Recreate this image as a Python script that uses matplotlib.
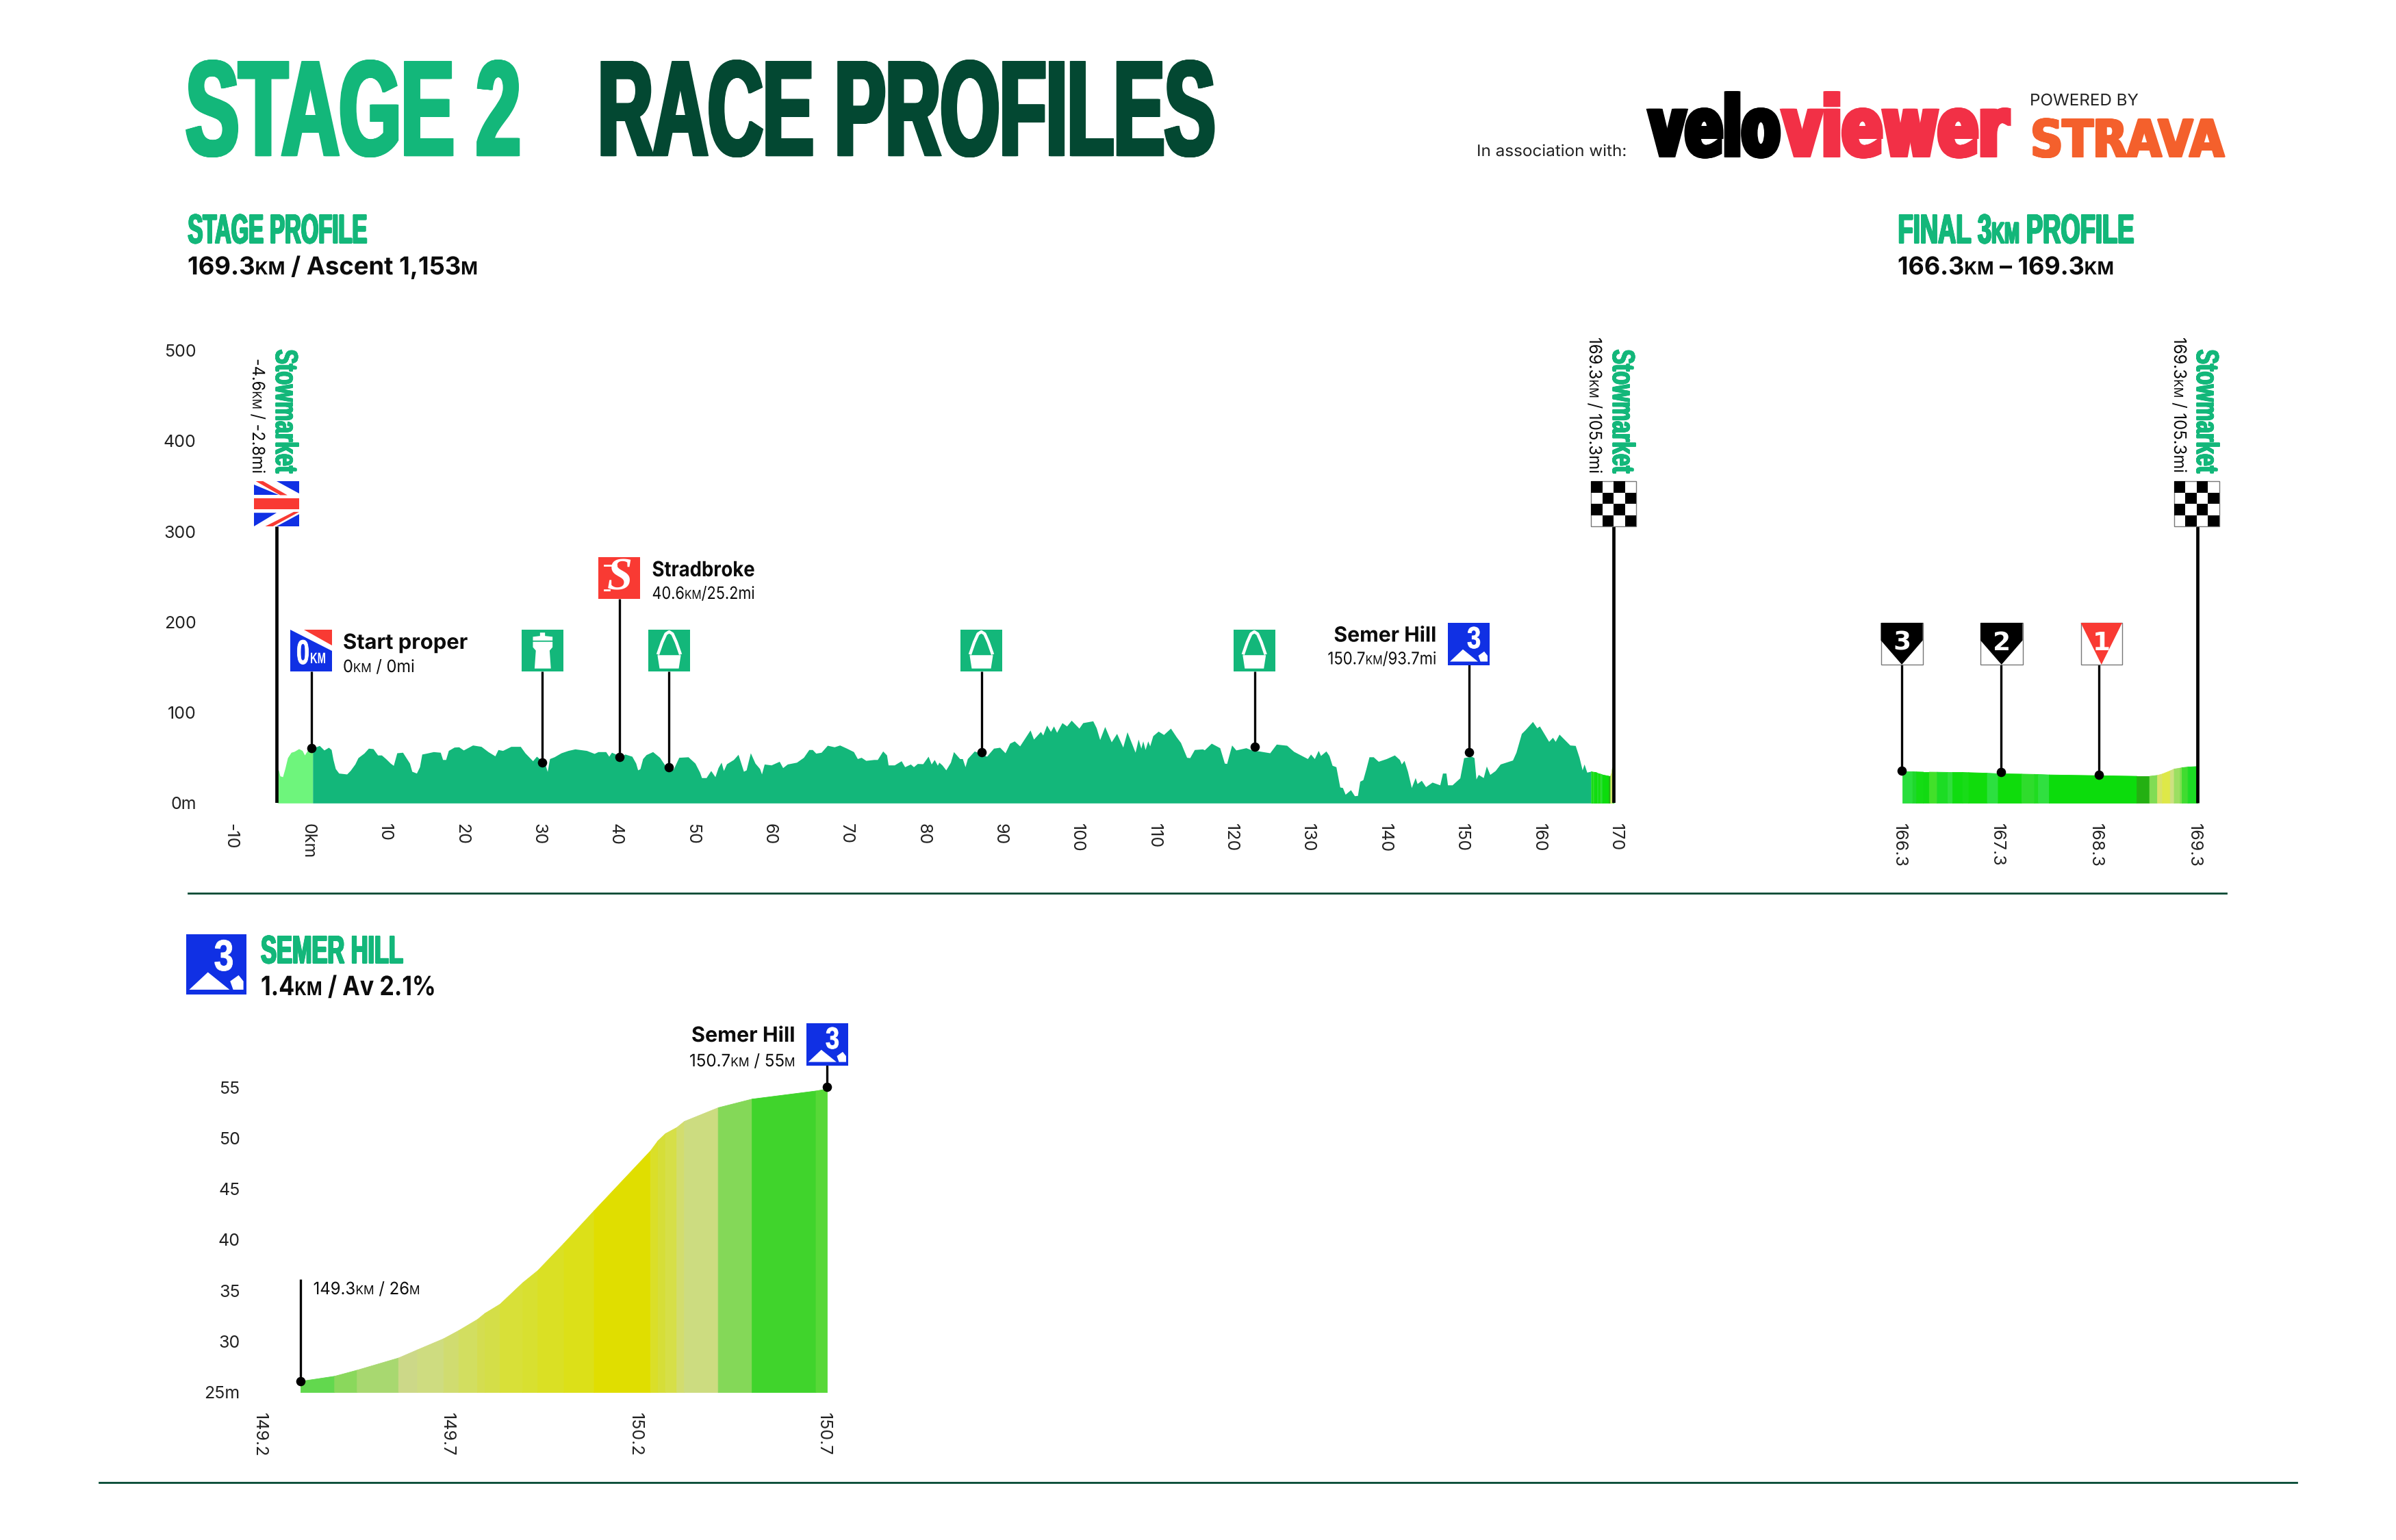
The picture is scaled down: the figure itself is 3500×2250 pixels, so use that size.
import matplotlib
matplotlib.use("Agg")
import matplotlib.pyplot as plt
from matplotlib.patches import Rectangle, Polygon
from matplotlib.patheffects import AbstractPathEffect
from matplotlib.transforms import Affine2D

W, H = 3500, 2250
plt.rcParams["font.family"] = ["Inter", "DejaVu Sans"]

GREEN = "#13B77A"
DARK = "#034832"
NEUTRAL = "#6EF57C"
BLUE = "#1030E4"
RED = "#F93A33"
INK = "#0c0c0c"
HEAD = "Liberation Sans"

# stage profile, km / metres
neutral_km = [-4.4, -4.23, -4.05, -3.7, -3.4, -3.06, -2.6, -2.2, -1.6, -1.15, -0.85, -0.4, 0.2]
neutral_m = [36, 36.5, 30, 29, 38, 50, 56, 57, 60, 58, 53, 59, 62.5]

stage_km = [0.2, 0.63, 1.08, 1.68, 2.27, 2.62, 2.86, 3.16, 3.6, 4.64, 5.1, 5.7, 6.1, 6.4, 6.87, 7.46, 8.06, 8.65, 9.15,
            9.7, 10.3, 10.7, 11.15, 11.9, 12.35, 12.8, 13.1, 13.7, 14.1, 14.4, 15.0, 15.9, 16.8, 17.1, 17.5, 17.85,
            18.6, 19.2, 19.8, 21, 22.1, 23, 23.9, 24.3, 24.9, 25.97, 27.2, 27.8, 28.8, 29.3, 30, 30.4, 30.7, 31, 31.6,
            32.5, 33.4, 34.3, 35.8, 36.8, 37.3, 38.3, 38.7, 39.05, 39.6, 40.2, 40.8, 41.7, 42.2, 42.45, 42.75, 43.1,
            43.55, 44.4, 45.3, 45.9, 46.5, 47.1, 47.8, 49, 49.9, 50.5, 50.75, 51.35, 51.95, 52.5, 52.9, 53.3, 53.6, 54,
            54.9, 55.5, 56.2, 56.55, 57.1, 57.7, 58.3, 58.55, 58.9, 59.8, 60.85, 61.3, 61.9, 63.1, 64, 64.7, 65.15,
            65.6, 66.3, 67.1, 68, 68.7, 69.6, 70.5, 71, 71.5, 72.1, 73.15, 73.6, 74.3, 74.8, 75, 75.8, 76.7, 77.15,
            77.9, 78.3, 78.8, 79.5, 80.2, 80.6, 81, 81.4, 81.6, 82, 82.5, 83.1, 83.5, 84.3, 84.65, 85, 85.3, 86.2,
            86.8, 87.8, 88.7, 89.5, 90.2, 90.8, 91.4, 92.1, 93.45, 93.9, 94.8, 95.1, 95.6, 96.1, 96.5, 96.9, 97.6,
            98.2, 98.8, 99.8, 100.3, 101.6, 102.05, 102.5, 103.15, 104, 104.7, 105.5, 106.05, 107.1, 107.5, 107.85,
            108.1, 108.4, 108.75, 109, 109.4, 110.1, 110.8, 111.7, 112.45, 113, 113.8, 114.2, 114.8, 115.85, 116.1,
            117, 118.1, 118.7, 119, 119.65, 120.2, 121.5, 122.4, 123.2, 124.6, 125.45, 126.8, 127.7, 129.5, 129.9,
            130.4, 130.9, 131.2, 131.9, 132.3, 132.7, 133.2, 133.7, 134.05, 134.4, 135.1, 135.6, 136, 136.3, 136.7,
            137.1, 137.5, 138.05, 138.7, 139.75, 140.8, 141.45, 141.7, 142.05, 142.5, 143, 143.5, 143.75, 144.3,
            144.85, 145.7, 146.7, 147.05, 147.5, 147.7, 148.3, 149.3, 149.8, 150.8, 151.15, 151.4, 151.7, 152.35,
            152.75, 153.2, 153.9, 154.55, 156.15, 156.6, 157.3, 157.8, 158.75, 159.3, 159.65, 160.85, 161.35, 161.7,
            162.2, 163.6, 164.3, 164.8, 165.2, 165.45, 165.8, 166.3]
stage_m = [62.5, 62, 63.5, 58.5, 61.5, 59, 48, 38, 33, 32, 36, 43, 50, 52, 55, 60.5, 60, 53, 53,
           49, 44, 41.5, 55.4, 56, 50, 44, 35, 33, 40, 54, 55, 56.7, 56, 48, 48, 58,
           61.7, 62, 58.5, 64, 62.5, 56.7, 52, 59, 58, 62.5, 62.5, 55.4, 46.6, 51.6, 46.6, 43, 34.8, 49, 51,
           55.4, 58, 59.7, 58, 54.7, 56.7, 56.7, 51.6, 56, 54, 51, 54, 51.6, 44, 36.5, 37.8, 49,
           53.4, 56.7, 50.4, 42.8, 36, 37.8, 50.4, 51, 44, 34, 28, 28, 35.8, 29, 39, 45, 35.8, 43.3,
           48, 53.7, 35, 36.5, 55.4, 44, 38, 32, 43, 42, 46, 39, 43, 45, 50.4, 59, 59,
           55, 56, 63.7, 62, 64, 60.5, 56.7, 49, 50.4, 47, 48, 48, 57.4, 53, 42, 42, 46.6, 40,
           43, 40, 43.6, 43.3, 51.6, 43, 48, 41.6, 45, 42, 36.5, 45, 56.7, 49, 49, 40, 49, 57.4,
           55.4, 51.6, 60.5, 61.5, 55.4, 66, 68.5, 63, 80.6, 70.5, 79, 75, 86, 79, 85, 78, 88.7,
           85, 91.4, 82.6, 88.7, 90.7, 83, 70, 84.4, 67.5, 76.8, 61.7, 78.6, 56, 70.5, 60.5,
           68.5, 59, 68.5, 63, 74.3, 79.3, 75.6, 82.6, 73, 66.8, 50.4, 50, 59, 59.7, 58.7,
           66, 61, 44, 43.6, 64, 58.5, 61, 58, 57.4, 55.4, 65, 63.7, 57, 49, 54,
           49, 58, 52.4, 57.4, 52.4, 41.6, 40, 17.6, 17, 9.6, 14.6, 8, 8.3, 24, 25.7,
           37.8, 51, 51, 46, 49, 53, 48, 43, 47, 35, 17, 28, 21.4, 25,
           18, 23, 20, 33, 33, 20, 20, 27.7, 50, 51.6, 50, 26.4, 31.5, 28,
           40.8, 31.5, 35.8, 43, 47.4, 56, 76.8, 81, 90, 83, 85, 68, 72.5, 68,
           76, 64, 63.5, 50.4, 36.5, 43, 34, 35]

# final 3km, one colour per stretch between two breakpoints
final_km = [166.3, 166.4, 166.44, 166.51, 166.57, 166.65, 166.76, 166.81, 166.91, 166.97, 167.16, 167.27, 167.51,
            167.64, 167.68, 167.79, 168.68, 168.81, 168.89, 168.94, 169.02, 169.06, 169.12, 169.14, 169.2, 169.3]
final_m = [35, 35, 34.8, 34.6, 34.6, 34.5, 34.3, 34.2, 34.2, 34, 33.4, 32.8, 32.4,
           32.1, 32, 31.5, 30, 30, 31, 32.5, 36, 38, 39, 39.5, 40.2, 40.8]
final_colors = ["#2ade3e", "#1ed82c", "#14dc14", "#12da12", "#42e02a", "#1cdc24", "#30de3c", "#10dc10", "#18dc18",
                "#10dc0c", "#2ce040", "#0fdc0c", "#2fdc2c", "#20dc20", "#30e040", "#0cdc0c", "#24b012", "#80dc54",
                "#d8e268", "#dee848", "#cde080", "#9cdf62", "#80df50", "#40dc30", "#1cdc24"]

# Semer Hill climb
climb_km = [149.3, 149.39, 149.45, 149.56, 149.61, 149.68, 149.72, 149.77, 149.79, 149.83, 149.89, 149.93, 150.0,
            150.08, 150.23, 150.25, 150.27, 150.3, 150.32, 150.41, 150.5, 150.67, 150.7]
climb_m = [26.1, 26.6, 27.2, 28.4, 29.2, 30.3, 31.1, 32.2, 32.8, 33.7, 35.8, 37, 39.7,
           42.9, 48.8, 49.8, 50.5, 51.1, 51.7, 53.05, 53.9, 54.7, 54.9]
climb_colors = ["#62d84e", "#8ad85c", "#a8d870", "#ccd888", "#cedc80", "#d0dc70", "#d2de60", "#d4dd50", "#d4de48",
                "#d8e038", "#d8e030", "#dae024", "#dce018", "#e0de00", "#dadf28", "#d6de38", "#d6df48", "#d2dd6e",
                "#ccdc80", "#84d858", "#40d42c", "#58d838"]

# waypoints: km, dot height, height the stem reaches
stage_stem_km = [0, 30.07, 40.1, 46.5, 87.1, 122.6, 150.45]
stage_stem_m = [60.6, 44.8, 50.7, 39.7, 56.3, 62, 56]
stage_stem_top = [145.4, 145.4, 225.5, 145.4, 145.4, 145.4, 153]
flag_km = [-4.45, 169.3]
flag_top = 305.6
marker_km = [166.29, 167.3, 168.3]
marker_m = [36, 34, 31.5]
marker_top = 153
climb_stem_km = [149.3, 150.7]
climb_stem_m = [26.1, 55.1]
climb_stem_top = [36.1, 57.2]

stage_xticks = list(range(-10, 171, 10))
stage_xlabels = ["-10", "0km"] + [str(v) for v in range(10, 171, 10)]
stage_yticks = [0, 100, 200, 300, 400, 500]
stage_ylabels = ["0m", "100", "200", "300", "400", "500"]
final_xticks = [166.3, 167.3, 168.3, 169.3]
climb_xticks = [149.2, 149.7, 150.2, 150.7]
climb_yticks = [25, 30, 35, 40, 45, 50, 55]
climb_ylabels = ["25m", "30", "35", "40", "45", "50", "55"]


class Tall(AbstractPathEffect):
    # draws text as its outline, stretched across its reading direction so it looks condensed
    def __init__(self, stretch, x, y, vertical=False, bold=0, smear=0):
        super().__init__()
        self.stretch, self.x, self.y = stretch, x, H - y
        self.vertical, self.bold, self.smear = vertical, bold, smear

    def draw_path(self, renderer, gc, tpath, affine, rgbFace=None):
        sx, sy = (self.stretch, 1) if self.vertical else (1, self.stretch)
        tall = Affine2D().translate(-self.x, -self.y).scale(sx, sy).translate(self.x, self.y)
        gc0 = renderer.new_gc()
        gc0.copy_properties(gc)
        gc0.set_linewidth(self.bold)
        gc0.set_joinstyle("miter")
        if self.bold:
            gc0.set_foreground(rgbFace)
        # thicken the stems by drawing the glyph a few times side by side
        steps = [-1, -0.5, 0, 0.5, 1] if self.smear else [0]
        for k in steps:
            d = k * self.smear
            shift = Affine2D().translate(0, d) if self.vertical else Affine2D().translate(d, 0)
            renderer.draw_path(gc0, tpath, affine + tall + shift, rgbFace)
        gc0.restore()


fig = plt.figure(figsize=(W / 200, H / 200), dpi=200, facecolor="white")
renderer = fig.canvas.get_renderer()


def px_axes(left, top, right, bottom):
    ax = fig.add_axes([left / W, 1 - bottom / H, (right - left) / W, (bottom - top) / H])
    ax.patch.set_alpha(0)
    for side in ax.spines.values():
        side.set_visible(False)
    ax.tick_params(length=0, labelsize=9, labelcolor="#222222")
    return ax


def shift_xlabels(ax, dx=-5):
    for label in ax.get_xticklabels():
        label.set_transform(label.get_transform() + Affine2D().translate(dx, 0))


page = fig.add_axes([0, 0, 1, 1], zorder=5)
page.set_xlim(0, W)
page.set_ylim(H, 0)
page.axis("off")


def natural(s, size, weight, family):
    t = page.text(0, 0, "|" + s + "|", fontsize=size, fontweight=weight, family=family)
    b = page.text(0, 0, "||", fontsize=size, fontweight=weight, family=family)
    w = t.get_window_extent(renderer).width - b.get_window_extent(renderer).width
    t.remove()
    b.remove()
    return w


def run(x, y, parts, fit=None, vertical=False, align="start", color=INK, weight="normal", family="Inter", bold=0,
        smear=0):
    # parts are (text, height size); laid out one after the other along the reading direction
    widths = [natural(s, size, weight, family) for s, size in parts]
    factor = (fit - 2 * smear) / sum(widths) if fit else 1.0
    total = sum(widths) * factor
    pos = (y if vertical else x) + smear
    if align == "end":
        pos = (y if vertical else x) - total - smear
    for (s, size), w in zip(parts, widths):
        px, py = (x, pos) if vertical else (pos, y)
        page.text(px, py, s, fontsize=size * factor, fontweight=weight, family=family, color=color, ha="left",
                  va="baseline", rotation=270 if vertical else 0, rotation_mode="anchor",
                  path_effects=[Tall(1 / factor, px, py, vertical, bold, smear)])
        pos += w * factor


def box(x0, y0, x1, y1, color, **kw):
    page.add_patch(Rectangle((x0, y0), x1 - x0, y1 - y0, facecolor=color, linewidth=kw.pop("lw", 0), **kw))


def shape(x0, y0, x1, y1, pts, color="white"):
    w, h = x1 - x0, y1 - y0
    page.add_patch(Polygon([(x0 + a * w, y0 + b * h) for a, b in pts], closed=True, facecolor=color, linewidth=0))


def uk_flag(x0, y0, x1, y1):
    box(x0, y0, x1, y1, "white")
    shape(x0, y0, x1, y1, [(0, 0.07), (0, 0.31), (0.55, 0.31)], BLUE)
    shape(x0, y0, x1, y1, [(0.5, 0), (1, 0), (1, 0.27)], BLUE)
    shape(x0, y0, x1, y1, [(0.04, 0), (0.2, 0), (0.74, 0.31), (0.58, 0.31)], RED)
    box(x0, y0 + 0.38 * (y1 - y0), x1, y0 + 0.62 * (y1 - y0), RED)
    shape(x0, y0, x1, y1, [(0, 0.7), (0.5, 0.7), (0, 1)], BLUE)
    shape(x0, y0, x1, y1, [(0.5, 1), (1, 0.73), (1, 1)], BLUE)
    shape(x0, y0, x1, y1, [(0.25, 1), (0.42, 1), (1, 0.68), (0.88, 0.68)], RED)


def chequered(x0, y0, x1, y1):
    box(x0, y0, x1, y1, "white", edgecolor="#777777", lw=0.5)
    dx, dy = (x1 - x0) / 4, (y1 - y0) / 4
    for r in range(4):
        for c in range(4):
            if (r + c) % 2 == 0:
                box(x0 + c * dx, y0 + r * dy, x0 + (c + 1) * dx, y0 + (r + 1) * dy, "black")


def km_flag(x0, y0, x1, y1, num, color):
    box(x0, y0, x1, y1, "white", edgecolor="#777777", lw=0.5)
    if color == RED:
        shape(x0, y0, x1, y1, [(0, 0), (1, 0), (0.5, 1)], color)
    else:
        shape(x0, y0, x1, y1, [(0, 0), (1, 0), (1, 0.42), (0.5, 1), (0, 0.42)], color)
    page.text((x0 + x1) / 2, y0 + 40, num, fontsize=13.5, fontweight="bold", family="DejaVu Sans", color="white",
              ha="center", va="baseline")


def kom_icon(x0, y0, x1, y1, size):
    box(x0, y0, x1, y1, BLUE)
    w, h = x1 - x0, y1 - y0
    run(x0 + 0.46 * w, y0 + 0.6 * h, [("3", size)], fit=0.33 * w, color="white", weight="bold", family=HEAD, bold=0.3)
    shape(x0, y0, x1, y1, [(0.05, 0.92), (0.36, 0.63), (0.72, 0.92)])
    shape(x0, y0, x1, y1, [(0.73, 0.78), (0.87, 0.68), (0.95, 0.78), (0.95, 0.92), (0.78, 0.92)])


def bag_icon(x0, y0, x1, y1):
    box(x0, y0, x1, y1, GREEN)
    shape(x0, y0, x1, y1, [(0.22, 0.61), (0.78, 0.61), (0.73, 0.93), (0.27, 0.93)])
    w, h = x1 - x0, y1 - y0
    xs = [0.24, 0.33, 0.42, 0.5, 0.58, 0.67, 0.76]
    ys = [0.56, 0.3, 0.1, 0.05, 0.1, 0.3, 0.56]
    page.plot([x0 + a * w for a in xs], [y0 + b * h for b in ys], color="white", linewidth=1.6)


def bottle_icon(x0, y0, x1, y1):
    box(x0, y0, x1, y1, GREEN)
    shape(x0, y0, x1, y1, [(0.44, 0.07), (0.56, 0.07), (0.56, 0.15), (0.74, 0.17), (0.74, 0.26), (0.27, 0.26),
                           (0.27, 0.17), (0.44, 0.15)])
    shape(x0, y0, x1, y1, [(0.27, 0.29), (0.74, 0.29), (0.74, 0.42), (0.67, 0.5), (0.7, 0.93), (0.31, 0.93),
                           (0.34, 0.5), (0.27, 0.42)])


# titles
run(270, 226, [("STAGE 2", 70.5)], fit=492, color=GREEN, weight="bold", family=HEAD, bold=1.5, smear=1.5)
run(872, 226, [("RACE PROFILES", 70.5)], fit=905, color=DARK, weight="bold", family=HEAD, bold=1.5, smear=1.5)
run(274, 355, [("STAGE PROFILE", 21.5)], fit=263, color=GREEN, weight="bold", family=HEAD, bold=0.5, smear=0.5)
run(2772, 355, [("FINAL 3", 21.5), ("KM", 15.5), (" PROFILE", 21.5)], fit=346, color=GREEN, weight="bold", family=HEAD,
    bold=0.5, smear=0.5)
run(274, 401, [("169.3", 13), ("KM", 9.5), (" / Ascent 1,153", 13), ("M", 9.5)], fit=424, weight="bold")
run(2772, 401, [("166.3", 13), ("KM", 9.5), (" – 169.3", 13), ("KM", 9.5)], fit=316, weight="bold")
run(380.6, 1407, [("SEMER HILL", 20.5)], fit=209, color=GREEN, weight="bold", family=HEAD, bold=0.5, smear=0.5)
run(381, 1454, [("1.4", 14), ("KM", 10), (" / Av 2.1%", 14)], fit=256, weight="bold")

# logos
run(2157, 228, [("In association with:", 8.3)], fit=219, color="#222222")
run(2407, 227, [("velo", 43)], fit=195, color="black", weight="bold", family="DejaVu Sans", bold=2, smear=2)
run(2602, 227, [("viewer", 43)], fit=333, color="#F23046", weight="bold", family="DejaVu Sans", bold=2, smear=2)
run(2965, 154, [("POWERED BY", 8.5)], fit=159, color="#222222")
run(2965, 229, [("STRAVA", 27)], fit=285, color="#F4602C", weight="bold", family="DejaVu Sans", bold=0.6, smear=1.5)

# separators
page.plot([275, 3252], [1305, 1305], color=DARK, linewidth=1.0)
page.plot([145, 3355], [2165.5, 2165.5], color=DARK, linewidth=1.0)

# stage profile
ax = px_axes(342.1, 512, 2365.3, 1173.3)
ax.fill_between(neutral_km, neutral_m, color=NEUTRAL, linewidth=0)
ax.fill_between(stage_km, stage_m, color=GREEN, linewidth=0)
for i, c in enumerate(final_colors):
    ax.fill_between(final_km[i:i + 2], final_m[i:i + 2], color=c, linewidth=0.3)
ax.set_xlim(-10, 170)
ax.set_ylim(0, 500)
ax.set_xticks(stage_xticks, stage_xlabels, rotation=270, ha="center", va="top")
ax.set_yticks(stage_yticks, stage_ylabels)
ax.tick_params(axis="x", pad=10.8)
ax.tick_params(axis="y", pad=20)
shift_xlabels(ax)
ax.vlines(flag_km, 0, flag_top, color="black", linewidth=1.7, zorder=4)
ax.vlines(stage_stem_km, stage_stem_m, stage_stem_top, color="black", linewidth=1.2, zorder=4)
ax.scatter(stage_stem_km, stage_stem_m, s=24, color="black", zorder=5, linewidth=0)

# final 3km
ax2 = px_axes(2779, 512, 3210, 1173.3)
for i, c in enumerate(final_colors):
    ax2.fill_between(final_km[i:i + 2], final_m[i:i + 2], color=c, linewidth=0.3)
ax2.set_xlim(166.3, 169.3)
ax2.set_ylim(0, 500)
ax2.set_yticks([])
ax2.set_xticks(final_xticks, [str(v) for v in final_xticks], rotation=270, ha="center", va="top")
ax2.tick_params(axis="x", pad=10.8)
shift_xlabels(ax2)
ax2.vlines([169.3], 0, flag_top, color="black", linewidth=1.7, zorder=4, clip_on=False)
ax2.vlines(marker_km, marker_m, marker_top, color="black", linewidth=1.2, zorder=4, clip_on=False)
ax2.scatter(marker_km, marker_m, s=24, color="black", zorder=5, linewidth=0, clip_on=False)

# Semer Hill
ax3 = px_axes(384, 1589, 1208, 2034)
for i, c in enumerate(climb_colors):
    ax3.fill_between(climb_km[i:i + 2], climb_m[i:i + 2], 25, color=c, linewidth=0.3)
ax3.set_xlim(149.2, 150.7)
ax3.set_ylim(25, 55)
ax3.set_xticks(climb_xticks, [str(v) for v in climb_xticks], rotation=270, ha="center", va="top")
ax3.set_yticks(climb_yticks, climb_ylabels)
ax3.tick_params(axis="x", pad=10.8)
ax3.tick_params(axis="y", pad=12)
shift_xlabels(ax3)
ax3.vlines(climb_stem_km, climb_stem_m, climb_stem_top, color="black", linewidth=1.2, zorder=4, clip_on=False)
ax3.scatter(climb_stem_km, climb_stem_m, s=24, color="black", zorder=5, linewidth=0, clip_on=False)

# stage icons and labels
uk_flag(371, 703, 437, 769)
chequered(2324, 703, 2390, 769)
chequered(3175.7, 703, 3241.5, 769)
for x_base in [403, 2356, 3209]:
    run(x_base, 510, [("Stowmarket", 16.5)], fit=182, vertical=True, color=GREEN, weight="bold", family=HEAD,
        bold=0.3, smear=0.6)
run(369, 524, [("-4.6", 9), ("KM", 6.5), (" / -2.8mi", 9)], fit=168, vertical=True)
run(2322, 493, [("169.3", 9), ("KM", 6.5), (" / 105.3mi", 9)], fit=199, vertical=True)
run(3176, 493, [("169.3", 9), ("KM", 6.5), (" / 105.3mi", 9)], fit=198, vertical=True)

# 0km icon
box(424, 920, 485, 981, BLUE)
shape(424, 920, 485, 981, [(0, 0), (1, 0), (1, 0.5)], "white")
shape(424, 920, 485, 981, [(0.33, 0), (1, 0), (1, 0.38)], RED)
run(433, 970, [("0", 18)], fit=19, color="white", weight="bold", family=HEAD, bold=0.3)
run(453, 969, [("KM", 8)], fit=23, color="white", weight="bold", family=HEAD)
run(501, 948, [("Start proper", 11)], fit=182, weight="bold")
run(501, 982, [("0", 9), ("KM", 6.5), (" / 0mi", 9)], fit=104.6)

bottle_icon(762, 920, 823, 981)
bag_icon(947, 920, 1008, 981)
bag_icon(1403, 920, 1464, 981)
bag_icon(1802, 920, 1862.5, 981)

box(874, 814, 935, 875, RED)
page.text(905, 862, "S", fontsize=24, fontweight="bold", fontstyle="italic", family="Liberation Serif", color="white",
          ha="center", va="baseline")
for y_line, x_end in [(826, 900), (862, 890)]:
    page.plot([883, x_end], [y_line, y_line], color="white", linewidth=1.0)
run(952.5, 842, [("Stradbroke", 11)], fit=150, weight="bold")
run(952.5, 875, [("40.6", 9), ("KM", 6.5), ("/25.2mi", 9)], fit=150)

kom_icon(2115, 910, 2176, 971.5, 16)
run(2098.4, 937.5, [("Semer Hill", 11)], fit=150, align="end", weight="bold")
run(2098.4, 970.5, [("150.7", 9), ("KM", 6.5), ("/93.7mi", 9)], fit=159, align="end")

km_flag(2747.5, 910, 2808.7, 971, "3", "black")
km_flag(2893, 910, 2954.5, 971, "2", "black")
km_flag(3039.5, 910, 3100, 971, "1", RED)

# climb icons and labels
kom_icon(272, 1365, 360, 1453, 23)
kom_icon(1177.7, 1495, 1239, 1556.5, 16)
run(1161.6, 1522, [("Semer Hill", 11)], fit=151.6, align="end", weight="bold")
run(1161.6, 1558, [("150.7", 9), ("KM", 6.5), (" / 55", 9), ("M", 6.5)], fit=154.6, align="end")
run(457.6, 1891, [("149.3", 9), ("KM", 6.5), (" / 26", 9), ("M", 6.5)], fit=156)

fig.savefig("out.png", dpi=200, facecolor="white")
